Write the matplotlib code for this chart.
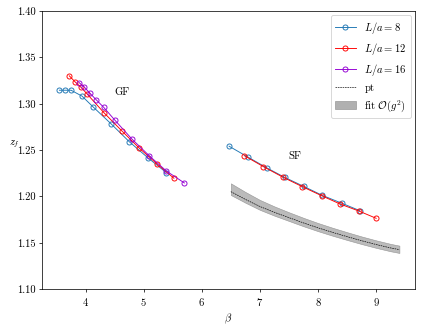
import matplotlib
matplotlib.use("Agg")
import matplotlib.pyplot as plt
from matplotlib.patches import Patch
from matplotlib.lines import Line2D

plt.rcParams.update({
    "font.family": "serif",
    "font.serif": ["cmr10", "DejaVu Serif"],
    "mathtext.fontset": "cm",
    "axes.formatter.use_mathtext": True,
    "font.size": 11.5,
})

# --- GF data ---
beta_gf_8 = [3.55, 3.65, 3.75, 3.94, 4.13, 4.44, 4.75, 5.07, 5.39]
z_gf_8 = [1.3144, 1.3144, 1.3144, 1.3080, 1.2964, 1.2781, 1.2590, 1.2417, 1.2255]

beta_gf_12 = [3.72, 3.82, 3.92, 4.02, 4.32, 4.63, 4.92, 5.23, 5.52]
z_gf_12 = [1.3299, 1.3234, 1.3177, 1.3108, 1.2899, 1.2702, 1.2522, 1.2349, 1.2195]

beta_gf_16 = [3.89, 3.98, 4.07, 4.18, 4.31, 4.50, 4.80, 5.10, 5.39, 5.70]
z_gf_16 = [1.3226, 1.3177, 1.3115, 1.3043, 1.2961, 1.2824, 1.2616, 1.2435, 1.2273, 1.2144]

# --- SF data ---
beta_sf_8 = [6.47, 6.80, 7.12, 7.43, 7.75, 8.07, 8.41, 8.72]
z_sf_8 = [1.2540, 1.2421, 1.2306, 1.2203, 1.2108, 1.2011, 1.1925, 1.1845]

beta_sf_12 = [6.73, 7.06, 7.40, 7.73, 8.06, 8.38, 8.70, 9.00]
z_sf_12 = [1.2439, 1.2320, 1.2205, 1.2104, 1.2007, 1.1917, 1.1842, 1.1763]

# --- perturbation theory curve and O(g^2) fit band ---
beta_pt = [6.5, 6.75, 7.0, 7.25, 7.5, 7.75, 8.0, 8.25, 8.5, 8.75, 9.0, 9.25, 9.4]
z_pt = [1.2050, 1.1967, 1.1890, 1.1827, 1.1770, 1.1713, 1.1660,
        1.1611, 1.1565, 1.1521, 1.1480, 1.1443, 1.1425]
z_fit_hi = [1.2140, 1.2047, 1.1961, 1.1891, 1.1828, 1.1768, 1.1712,
            1.1661, 1.1613, 1.1567, 1.1525, 1.1487, 1.1468]
z_fit_lo = [1.2014, 1.1931, 1.1854, 1.1791, 1.1734, 1.1677, 1.1624,
            1.1575, 1.1529, 1.1485, 1.1444, 1.1407, 1.1389]

C8 = "#1f77b4"
C12 = "red"
C16 = "darkviolet"

fig = plt.figure(figsize=(6.4, 4.94), dpi=66.25)
ax = fig.add_axes([0.099, 0.116, 0.880, 0.850])

mk = dict(marker="o", mfc="none", ms=5.5, lw=1.0, mew=1.0)
ax.plot(beta_gf_8, z_gf_8, color=C8, **mk)
ax.plot(beta_sf_8, z_sf_8, color=C8, **mk)
ax.plot(beta_gf_12, z_gf_12, color=C12, **mk)
ax.plot(beta_sf_12, z_sf_12, color=C12, **mk)
ax.plot(beta_gf_16, z_gf_16, color=C16, **mk)

ax.fill_between(beta_pt, z_fit_lo, z_fit_hi, color="#b0b0b0", alpha=0.85,
                edgecolor="#888888", linewidth=0.6)
ax.plot(beta_pt, z_pt, color="black", ls="--", lw=0.7, dashes=(2.5, 1.2))

ax.text(4.63, 1.313, "GF", ha="center", va="center")
ax.text(7.6, 1.244, "SF", ha="center", va="center")

ax.set_xlim(3.25, 9.67)
ax.set_ylim(1.10, 1.40)
ax.set_xticks([4, 5, 6, 7, 8, 9])
yt = [1.10, 1.15, 1.20, 1.25, 1.30, 1.35, 1.40]
ax.set_yticks(yt)
ax.set_yticklabels([f"{v:.2f}" for v in yt])
ax.set_xlabel(r"$\beta$")
ax.set_ylabel(r"$z_f$", rotation=0, labelpad=3)

handles = [
    Line2D([], [], color=C8, **mk),
    Line2D([], [], color=C12, **mk),
    Line2D([], [], color=C16, **mk),
    Line2D([], [], color="black", ls="--", lw=0.7, dashes=(2.5, 1.2)),
    Patch(facecolor="#b0b0b0", edgecolor="#888888", linewidth=0.6),
]
labels = [r"$L/a=8$", r"$L/a=12$", r"$L/a=16$", "pt", r"fit $\mathcal{O}(g^2)$"]
ax.legend(handles, labels, loc="upper right", borderaxespad=0.4)

fig.savefig("out.png", dpi=66.25)
